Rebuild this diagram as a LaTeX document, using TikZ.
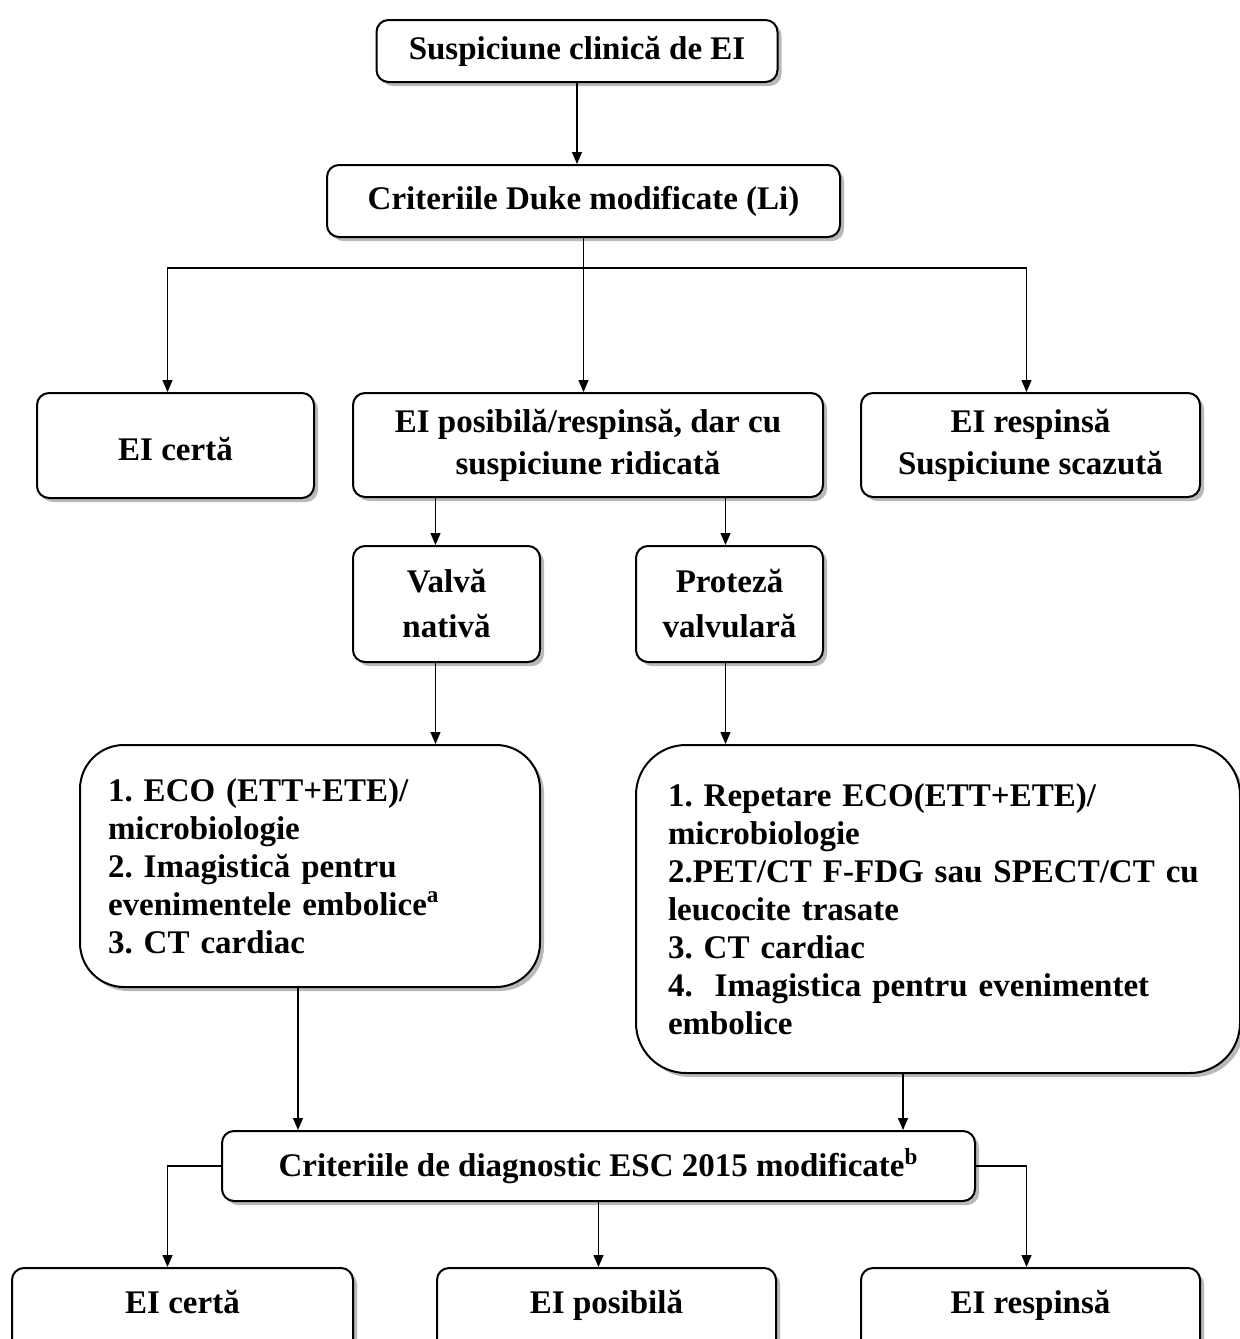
\documentclass[tikz,border=0pt]{standalone}
\usepackage{fontspec}
\setmainfont{Liberation Serif}
\usepackage{tikz}
\usetikzlibrary{positioning,arrows.meta,shadows,calc}
\frenchspacing

\begin{document}
\begin{tikzpicture}[x=0.5pt,y=-0.5pt,
  box/.style={rectangle,rounded corners=6pt,draw=black,line width=1pt,fill=white,
    drop shadow={shadow xshift=2pt,shadow yshift=-2pt,fill=black!55},
    font=\bfseries\fontsize{16.5}{21}\selectfont,align=center,inner sep=2pt},
  listbox/.style={box,rounded corners=22pt,align=left,
    font=\bfseries\fontsize{16.5}{19}\selectfont},
  endbox/.style={box,minimum width=169.5pt,minimum height=42pt,text height=11pt,text depth=8pt},
  arr/.style={-{Triangle[length=6pt,width=5pt]},line width=0.6pt},
  link/.style={line width=0.6pt}
]
\clip (0,0) rectangle (1240,1339);
\useasboundingbox (0,0) rectangle (1240,1339);

\node[box,minimum width=200.5pt,minimum height=31pt] (clin) at (577,51) {Suspiciune clinică de EI};
\node[box,minimum width=256.5pt,minimum height=36pt] (crit) at (583.5,201) {Criteriile Duke modificate (Li)};

\node[box,minimum width=138.5pt,minimum height=52.5pt,text height=15pt,text depth=0pt] (certa) at (175.5,445.5) {EI certă};
\node[box,minimum width=235pt,minimum height=52pt] (posib) at (588,445) {EI posibilă/respinsă, dar cu\\suspiciune ridicată};
\node[box,minimum width=169.5pt,minimum height=52pt] (resp) at (1030.5,445) {EI respinsă\\Suspiciune scazută};

\node[box,minimum width=93.5pt,minimum height=58pt] (nativ) at (446.5,604) {Valvă\\[1.5pt]nativă};
\node[box,minimum width=93.5pt,minimum height=58pt] (protez) at (729.5,604) {Proteză\\[1.5pt]valvulară};

\node[listbox,text width=202pt,inner xsep=14pt,minimum height=121pt] (listn) at (310,866) {%
  1. ECO (ETT+ETE)/\\microbiologie\\2. Imagistică pentru\\evenimentele embolice\textsuperscript{a}\\3. CT cardiac};
\node[listbox,rounded corners=25pt,text width=270pt,inner xsep=16pt,minimum height=164pt] (listp) at (938,909) {%
  1. Repetare ECO(ETT+ETE)/\\microbiologie\\2.PET/CT F-FDG sau SPECT/CT cu\\leucocite trasate\\3. CT cardiac\\4.\ \ Imagistica pentru evenimentet\\embolice};

\node[box,minimum width=376.5pt,minimum height=35pt] (esc) at (598.5,1166) {Criteriile de diagnostic ESC 2015 modificate\textsuperscript{b}};

\node[endbox,minimum width=170.5pt] (fcerta) at (182.5,1310) {EI certă};
\node[endbox] (fposib) at (606.5,1310) {EI posibilă};
\node[endbox] (fresp) at (1030.5,1310) {EI respinsă};

% connectors
\coordinate (split) at (583.5,268);
\draw[arr] (clin.south) -- (clin.south |- crit.north);
\draw[link] (crit.south) -- (split);
\draw[arr] (split) -| ([xshift=-4pt]certa.north);
\draw[arr] (split) -| ([xshift=-2pt]resp.north);
\draw[arr] (split) -- (split |- posib.north);

\draw[arr] ([xshift=-5.5pt]nativ.north |- posib.south) -- ([xshift=-5.5pt]nativ.north);
\draw[arr] ([xshift=-2pt]protez.north |- posib.south) -- ([xshift=-2pt]protez.north);
\draw[arr] ([xshift=-5.5pt]nativ.south) -- ([xshift=-5.5pt]nativ.south |- listn.north);
\draw[arr] ([xshift=-2pt]protez.south) -- ([xshift=-2pt]protez.south |- listp.north);

\draw[arr] ([xshift=-6pt]listn.south) -- ([xshift=-6pt]listn.south |- esc.north);
\draw[arr] ([xshift=-17.5pt]listp.south) -- ([xshift=-17.5pt]listp.south |- esc.north);

\draw[arr] (esc.west) -| ([xshift=-7.5pt]fcerta.north);
\draw[arr] (esc.east) -| ([xshift=-2pt]fresp.north);
\draw[arr] (esc.south) -- (esc.south |- fposib.north);
\end{tikzpicture}
\end{document}
